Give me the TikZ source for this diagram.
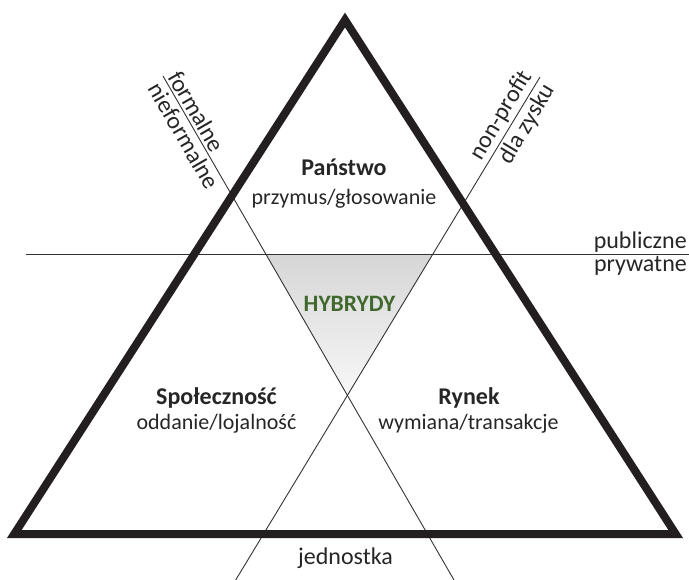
\documentclass[tikz,border=0pt]{standalone}
\usepackage{fontspec}
\setmainfont{Carlito}
\begin{document}
\begin{tikzpicture}[x=1pt,y=-1pt,
  frame/.style={draw=framecol, line width=8pt, line join=miter},
  divider/.style={draw=black!80, line width=0.9pt},
  sector/.style={font=\fontsize{24}{26}\selectfont\bfseries, text=black!85, inner sep=0pt, anchor=base},
  rule/.style={font=\fontsize{22}{24}\selectfont, text=black!85, inner sep=0pt, anchor=base},
  axis/.style={font=\fontsize{24}{26}\selectfont, text=black!85, inner sep=3pt},
  hybrid/.style={font=\fontsize{23.5}{26}\selectfont\bfseries, text=hybgreen, inner sep=0pt, anchor=base}]
\definecolor{hybgreen}{HTML}{41692D}
\definecolor{framecol}{HTML}{231F20}
\useasboundingbox (0,0) rectangle (689,580);

% corners of the main triangle
\coordinate (T) at (345,20);
\coordinate (L) at (14.3,534);
\coordinate (R) at (675.7,534);

% ends of the three dividing lines
\coordinate (a1) at (163,76);
\coordinate (a2) at (454,580);
\coordinate (b1) at (540,77);
\coordinate (b2) at (235.7,580);
\coordinate (h1) at (26,254.5);
\coordinate (h2) at (689,254.5);

% shaded region of hybrids
\coordinate (hl) at (intersection of a1--a2 and h1--h2);
\coordinate (hr) at (intersection of b1--b2 and h1--h2);
\coordinate (hx) at (intersection of a1--a2 and b1--b2);
\shade[top color=black!16, bottom color=black!3] (hl) -- (hr) -- (hx) -- cycle;

% dividing lines
\draw[divider] (h1) -- (h2);
\draw[divider] (a1) -- (a2);
\draw[divider] (b1) -- (b2);

% main triangle
\draw[frame] (T) -- (L) -- (R) -- cycle;

% sector labels
\node[sector] (panstwo) at (344,176) {Państwo};
\node[rule] (przymus) at (344,205) {przymus/głosowanie};
\node[sector] (spolecznosc) at (216.5,405) {Społeczność};
\node[rule] (oddanie) at (216.5,430) {oddanie/lojalność};
\node[sector] (rynek) at (469,405) {Rynek};
\node[rule] (wymiana) at (468.5,430) {wymiana/transakcje};
\node[hybrid] (hybrydy) at (349.5,311.7) {HYBRYDY};

% labels of the dividing lines
\node[axis, anchor=south east, inner sep=2pt] (publiczne) at (689,254.5) {publiczne};
\node[axis, anchor=north east, inner sep=2pt] (prywatne) at (689,254.5) {prywatne};
\node[rule, font=\fontsize{24}{26}\selectfont] (jednostka) at (345.5,564) {jednostka};
\node[axis, anchor=south west, rotate=-60] (formalne) at (a1) {formalne};
\node[axis, anchor=north west, rotate=-60] (nieformalne) at (a1) {nieformalne};
\node[axis, anchor=south east, rotate=59] (nonprofit) at (b1) {non-profit};
\node[axis, anchor=north east, rotate=59] (dlazysku) at (b1) {dla zysku};
\end{tikzpicture}
\end{document}
